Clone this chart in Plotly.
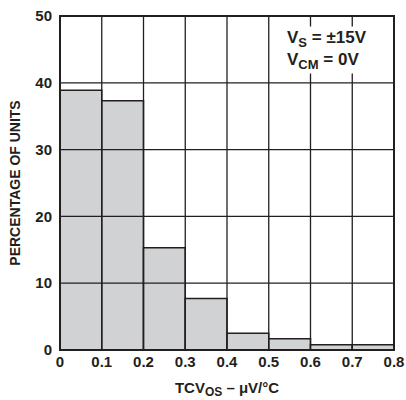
import plotly.graph_objects as go

bin_left = [0.0, 0.1, 0.2, 0.3, 0.4, 0.5, 0.6, 0.7]
percent = [38.9, 37.3, 15.3, 7.7, 2.5, 1.7, 0.8, 0.8]
bin_width = 0.1
x_ticks = [0, 0.1, 0.2, 0.3, 0.4, 0.5, 0.6, 0.7, 0.8]
x_tick_text = ["0", "0.1", "0.2", "0.3", "0.4", "0.5", "0.6", "0.7", "0.8"]
y_ticks = [0, 10, 20, 30, 40, 50]

FONT = "Liberation Sans, Arial, Helvetica, sans-serif"
DARK = "#231f20"

fig = go.Figure()
fig.add_trace(go.Bar(
    x=[b + bin_width / 2 for b in bin_left],
    y=percent,
    width=[bin_width] * len(bin_left),
    marker=dict(color="#d1d2d4", line=dict(color=DARK, width=1.5)),
    hoverinfo="skip",
))

shapes = []
for xv in x_ticks[1:-1]:
    shapes.append(dict(type="line", xref="x", yref="y", x0=xv, x1=xv, y0=0, y1=50,
                       line=dict(color=DARK, width=1.3), layer="above"))
for yv in y_ticks[1:-1]:
    shapes.append(dict(type="line", xref="x", yref="y", x0=0, x1=0.8, y0=yv, y1=yv,
                       line=dict(color=DARK, width=1.3), layer="above"))
shapes.append(dict(type="rect", xref="paper", yref="paper", x0=0, x1=1, y0=0, y1=1,
                   line=dict(color=DARK, width=2), layer="above"))

fig.update_layout(
    width=406, height=400,
    margin=dict(l=60, r=12, t=16, b=50, autoexpand=False),
    paper_bgcolor="white", plot_bgcolor="white",
    showlegend=False,
    bargap=0,
    font=dict(family=FONT, color=DARK, size=14, weight="bold"),
    shapes=shapes,
    xaxis=dict(range=[0, 0.8], tickvals=x_ticks, ticktext=x_tick_text,
               showgrid=False, zeroline=False, showline=False, ticks="",
               tickfont=dict(size=15, family=FONT, weight="bold"),
               ticklabelstandoff=1, automargin=False, ticklabeloverflow="allow",
               title=dict(text="TCV<sub><span style='font-size:12px'>OS</span></sub> – μV/°C",
                          standoff=13,
                          font=dict(size=15, family=FONT, weight="bold"))),
    yaxis=dict(range=[0, 50], tickvals=y_ticks,
               showgrid=False, zeroline=False, showline=False, ticks="",
               tickfont=dict(size=15, family=FONT, weight="bold"),
               ticklabelstandoff=7, automargin=False, ticklabeloverflow="allow",
               title=dict(text="PERCENTAGE OF UNITS", standoff=11,
                          font=dict(size=14, family=FONT, weight="bold"))),
    annotations=[dict(
        xref="paper", yref="paper", x=0.675, y=0.97, xanchor="left", yanchor="top",
        text="V<sub><span style='font-size:13px'>S</span></sub> = ±15V<br>"
             "V<sub><span style='font-size:13px'>CM</span></sub> = 0V",
        showarrow=False, align="left", bgcolor="white",
        font=dict(size=17, family=FONT, weight="bold", color=DARK),
    )],
)

fig.write_html(
    "out.html",
    config={"displayModeBar": False, "staticPlot": True},
    post_script="document.body.style.margin='0';document.body.style.overflow='hidden';",
)
